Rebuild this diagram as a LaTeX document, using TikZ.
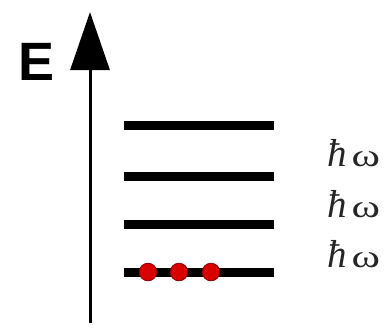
\documentclass[tikz,border=0pt]{standalone}
\usepackage{fontspec}
\usepackage{graphicx}
\newfontfamily\labelfont{Liberation Sans}
\newfontfamily\quantfont{Liberation Serif}
\newcommand{\hbaromega}{\textit{ħ}\hspace{5pt}{\fontsize{32}{32}\selectfont\scalebox{1.35}[1]{ω}}}
\usetikzlibrary{arrows.meta, positioning}

\begin{document}
\begin{tikzpicture}[x=1pt, y=-1pt,
    level/.style={line width=9pt},
    quantum/.style={font=\quantfont\fontsize{39}{39}\selectfont, inner sep=0pt, anchor=base west, text=black!85},
    particle/.style={fill=red!85!black, draw=red!55!black, line width=0.8pt}]
\useasboundingbox (0,0) rectangle (391,327);

% Energy axis
\coordinate (axisbot) at (90,323);
\coordinate (axistop) at (90,12);
\draw[line width=3pt, -{Triangle[length=58pt, width=39pt]}] (axisbot) -- (axistop);
\node[font=\labelfont\bfseries\fontsize{54}{54}\selectfont] (elabel) at (37,62) {E};

% Energy levels
\foreach \name/\y in {lvlzero/272, lvlone/224, lvltwo/176, lvlthree/125} {
    \coordinate (\name-w) at (124,\y);
    \coordinate (\name-e) at (274,\y);
    \draw[level] (\name-w) -- (\name-e);
}

% Level spacing
\node[quantum] (gapone) at (327,267) {\hbaromega};
\node[quantum] (gaptwo) at (327,217) {\hbaromega};
\node[quantum] (gapthree) at (327,166) {\hbaromega};

% Particles in the ground level
\foreach \x in {148, 179, 211} {
    \fill[particle] (\x,272) circle (8.8);
}
\end{tikzpicture}
\end{document}
